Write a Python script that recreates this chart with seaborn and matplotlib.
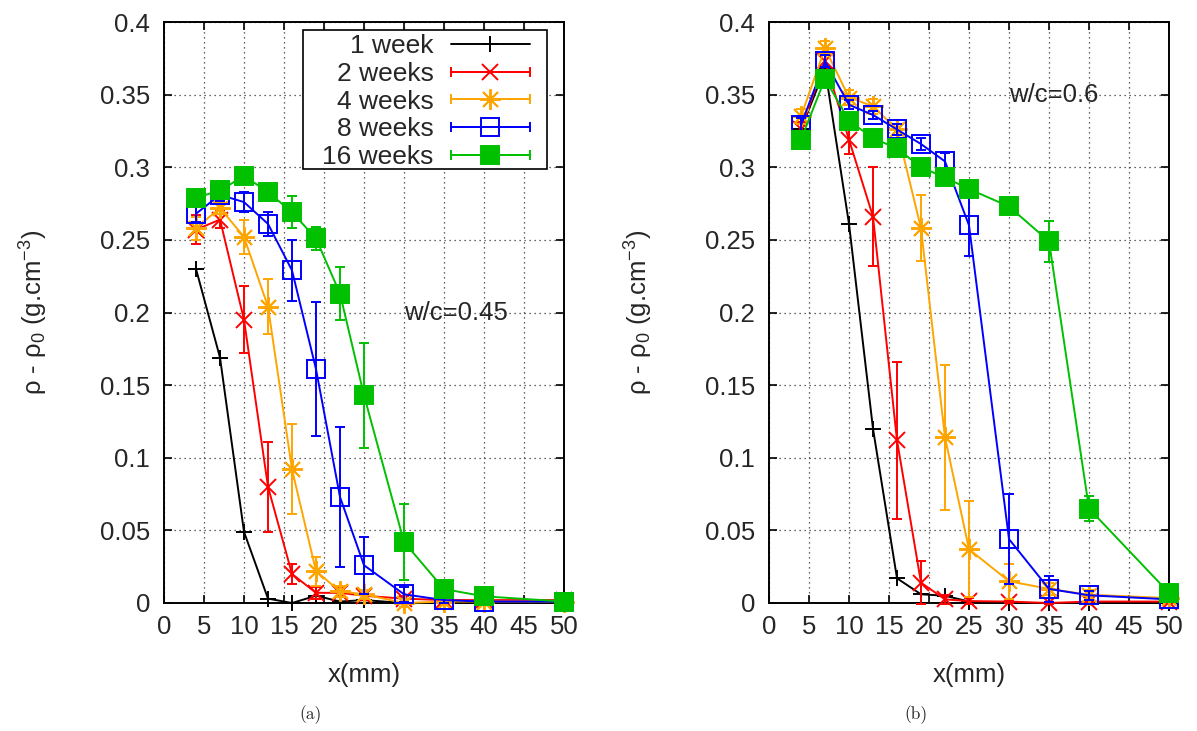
import matplotlib
matplotlib.use("Agg")
import matplotlib.pyplot as plt
from matplotlib.lines import Line2D
from matplotlib.patches import Rectangle
from matplotlib.legend_handler import HandlerLine2D, HandlerTuple
from matplotlib.ticker import FuncFormatter
import seaborn as sns

# ---------------- data ----------------
x_mm = [4, 7, 10, 13, 16, 19, 22, 25, 30, 35, 40, 50]
series_labels = ["1 week", "2 weeks", "4 weeks", "8 weeks", "16 weeks"]

# panel (a) w/c = 0.45
a_1w = [0.230, 0.169, 0.049, 0.003, 0.000, 0.005, 0.001, 0.002, 0.000, 0.000, 0.000, 0.000]
a_2w = [0.257, 0.264, 0.195, 0.080, 0.020, 0.007, 0.007, 0.005, 0.003, 0.002, 0.002, 0.002]
a_2w_err = [0.010, 0.006, 0.023, 0.031, 0.007, 0.004, 0.003, 0.003, 0.002, 0.002, 0.002, 0.002]
a_4w = [0.258, 0.272, 0.252, 0.204, 0.092, 0.022, 0.008, 0.006, 0.000, 0.001, 0.001, 0.001]
a_4w_err = [0.008, 0.004, 0.012, 0.019, 0.031, 0.010, 0.004, 0.003, 0.003, 0.001, 0.001, 0.001]
a_8w = [0.268, 0.281, 0.276, 0.261, 0.229, 0.161, 0.073, 0.026, 0.006, 0.002, 0.001, 0.001]
a_8w_err = [0.006, 0.004, 0.007, 0.0085, 0.021, 0.046, 0.048, 0.0195, 0.005, 0.002, 0.001, 0.001]
a_16w = [0.279, 0.284, 0.294, 0.283, 0.269, 0.251, 0.213, 0.143, 0.042, 0.0096, 0.0046, 0.001]
a_16w_err = [0.005, 0.004, 0.004, 0.004, 0.011, 0.008, 0.018, 0.036, 0.026, 0.003, 0.002, 0.001]

# panel (b) w/c = 0.6
b_1w = [0.326, 0.368, 0.261, 0.120, 0.017, 0.006, 0.005, 0.001, 0.000, 0.000, 0.000, 0.000]
b_2w = [0.326, 0.373, 0.319, 0.266, 0.112, 0.014, 0.0025, 0.0013, 0.001, 0.000, 0.001, 0.001]
b_2w_err = [0.005, 0.004, 0.010, 0.034, 0.054, 0.015, 0.003, 0.002, 0.001, 0.001, 0.001, 0.001]
b_4w = [0.335, 0.382, 0.348, 0.342, 0.326, 0.258, 0.114, 0.037, 0.015, 0.0097, 0.0057, 0.0034]
b_4w_err = [0.005, 0.005, 0.005, 0.005, 0.004, 0.0226, 0.050, 0.033, 0.012, 0.004, 0.003, 0.002]
b_8w = [0.329, 0.373, 0.343, 0.336, 0.326, 0.316, 0.304, 0.260, 0.044, 0.0097, 0.0053, 0.0025]
b_8w_err = [0.005, 0.004, 0.003, 0.003, 0.004, 0.004, 0.006, 0.021, 0.031, 0.009, 0.003, 0.002]
b_16w = [0.319, 0.361, 0.332, 0.320, 0.313, 0.300, 0.293, 0.285, 0.273, 0.249, 0.065, 0.007]
b_16w_err = [0.003, 0.003, 0.003, 0.003, 0.003, 0.003, 0.003, 0.003, 0.003, 0.014, 0.0087, 0.004]

x_ticks = [0, 5, 10, 15, 20, 25, 30, 35, 40, 45, 50]
y_ticks = [0, 0.05, 0.1, 0.15, 0.2, 0.25, 0.3, 0.35, 0.4]
panel_notes = ["w/c=0.45", "w/c=0.6"]
panel_note_pos = [(30, 0.200), (30, 0.350)]
captions = ["(a)", "(b)"]

# ---------------- style ----------------
sns.set_style("ticks")
plt.rcParams["font.family"] = ["Liberation Sans", "DejaVu Sans"]
plt.rcParams["mathtext.default"] = "regular"

colors = ["#000000", "#ff0000", "#ffa500", "#0000ff", "#00c000"]
markers = ["+", "x", (8, 2, 0), "s", "s"]
msizes = [12, 12, 15, 12.5, 12.5]
facecols = ["none", "none", "none", "none", "#00c000"]
LW = 1.4
FS = 18.5

fig = plt.figure(figsize=(11.97, 7.31), dpi=100)
ax_a = fig.add_axes([164 / 1197, 1 - 603 / 731, 400 / 1197, 581 / 731])
ax_b = fig.add_axes([769 / 1197, 1 - 603 / 731, 400 / 1197, 581 / 731])

panels = [
    (ax_a, [a_1w, a_2w, a_4w, a_8w, a_16w], [None, a_2w_err, a_4w_err, a_8w_err, a_16w_err]),
    (ax_b, [b_1w, b_2w, b_4w, b_8w, b_16w], [None, b_2w_err, b_4w_err, b_8w_err, b_16w_err]),
]

fmt = FuncFormatter(lambda v, p: f"{round(v, 4):g}")

for i, (ax, ys, errs) in enumerate(panels):
    for k in range(5):
        z = 3 + k
        if errs[k] is not None:
            ax.errorbar(x_mm, ys[k], yerr=errs[k], fmt="none", ecolor=colors[k],
                        elinewidth=LW, capsize=3.5, capthick=LW, zorder=z, clip_on=False)
        sns.lineplot(x=x_mm, y=ys[k], ax=ax, color=colors[k], marker=markers[k],
                     markersize=msizes[k], markeredgecolor=colors[k],
                     markerfacecolor=facecols[k], markeredgewidth=LW, linewidth=LW,
                     legend=False, zorder=z, clip_on=False)
    ax.set_xlim(0, 50)
    ax.set_ylim(0, 0.4)
    ax.set_xticks(x_ticks)
    ax.set_yticks(y_ticks)
    ax.xaxis.set_major_formatter(fmt)
    ax.yaxis.set_major_formatter(fmt)
    ax.tick_params(axis="both", direction="in", top=True, right=True, length=6,
                   width=1.2, labelsize=FS, color="black")
    ax.tick_params(axis="y", pad=10)
    ax.tick_params(axis="x", pad=9)
    ax.grid(True, linestyle=(0, (1, 3)), linewidth=0.9, color="#333333")
    ax.set_axisbelow(True)
    for s in ax.spines.values():
        s.set_visible(True)
        s.set_linewidth(1.4)
        s.set_color("black")
    ax.set_xlabel("x(mm)", fontsize=FS)
    ax.set_ylabel(r"ρ - ρ$_{0}$ (g.cm$^{-3}$)", fontsize=FS)
    ax.xaxis.set_label_coords(0.5, -0.103)
    ax.yaxis.set_label_coords(-0.285, 0.5)
    ax.text(panel_note_pos[i][0], panel_note_pos[i][1], panel_notes[i], fontsize=FS,
            ha="left", va="center")
    ax.set_facecolor("white")

for cx, cap in zip([311 / 1197, 916 / 1197], captions):
    fig.text(cx, 1 - 715 / 731, cap, ha="center", va="center", fontsize=12.5,
             family="cmr10")

# legend in gnuplot style (label left, sample right, horizontal caps)
handles = []
hmap = {}
for k in range(5):
    mline = Line2D([], [], color=colors[k], lw=LW, marker=markers[k], ms=msizes[k],
                   mec=colors[k], mfc=facecols[k], mew=LW)
    hmap[mline] = HandlerLine2D(numpoints=1)
    if k == 0:
        handles.append(mline)
    else:
        cline = Line2D([], [], color=colors[k], lw=LW, marker="|", ms=7, mew=LW)
        hmap[cline] = HandlerLine2D(numpoints=2, marker_pad=0)
        tup = (cline, mline)
        handles.append(tup)
        hmap[tup] = HandlerTuple(ndivide=1, pad=0)

# legend frame (gnuplot key box)
frame = Rectangle((0.3475, 0.747), 0.9575 - 0.3475, 0.986 - 0.747, transform=ax_a.transAxes,
                  facecolor="white", edgecolor="black", linewidth=1.2, zorder=19,
                  clip_on=False)
ax_a.add_patch(frame)

leg = ax_a.legend(handles, series_labels, handler_map=hmap, loc="upper right",
                  bbox_to_anchor=(0.915, 0.979), borderaxespad=0, markerfirst=False,
                  fontsize=19, handlelength=3.0, handletextpad=0.65, labelspacing=0.14,
                  borderpad=0.0, frameon=False, numpoints=1)
leg.set_zorder(20)

fig.savefig("out.png", dpi=100, facecolor="white")
